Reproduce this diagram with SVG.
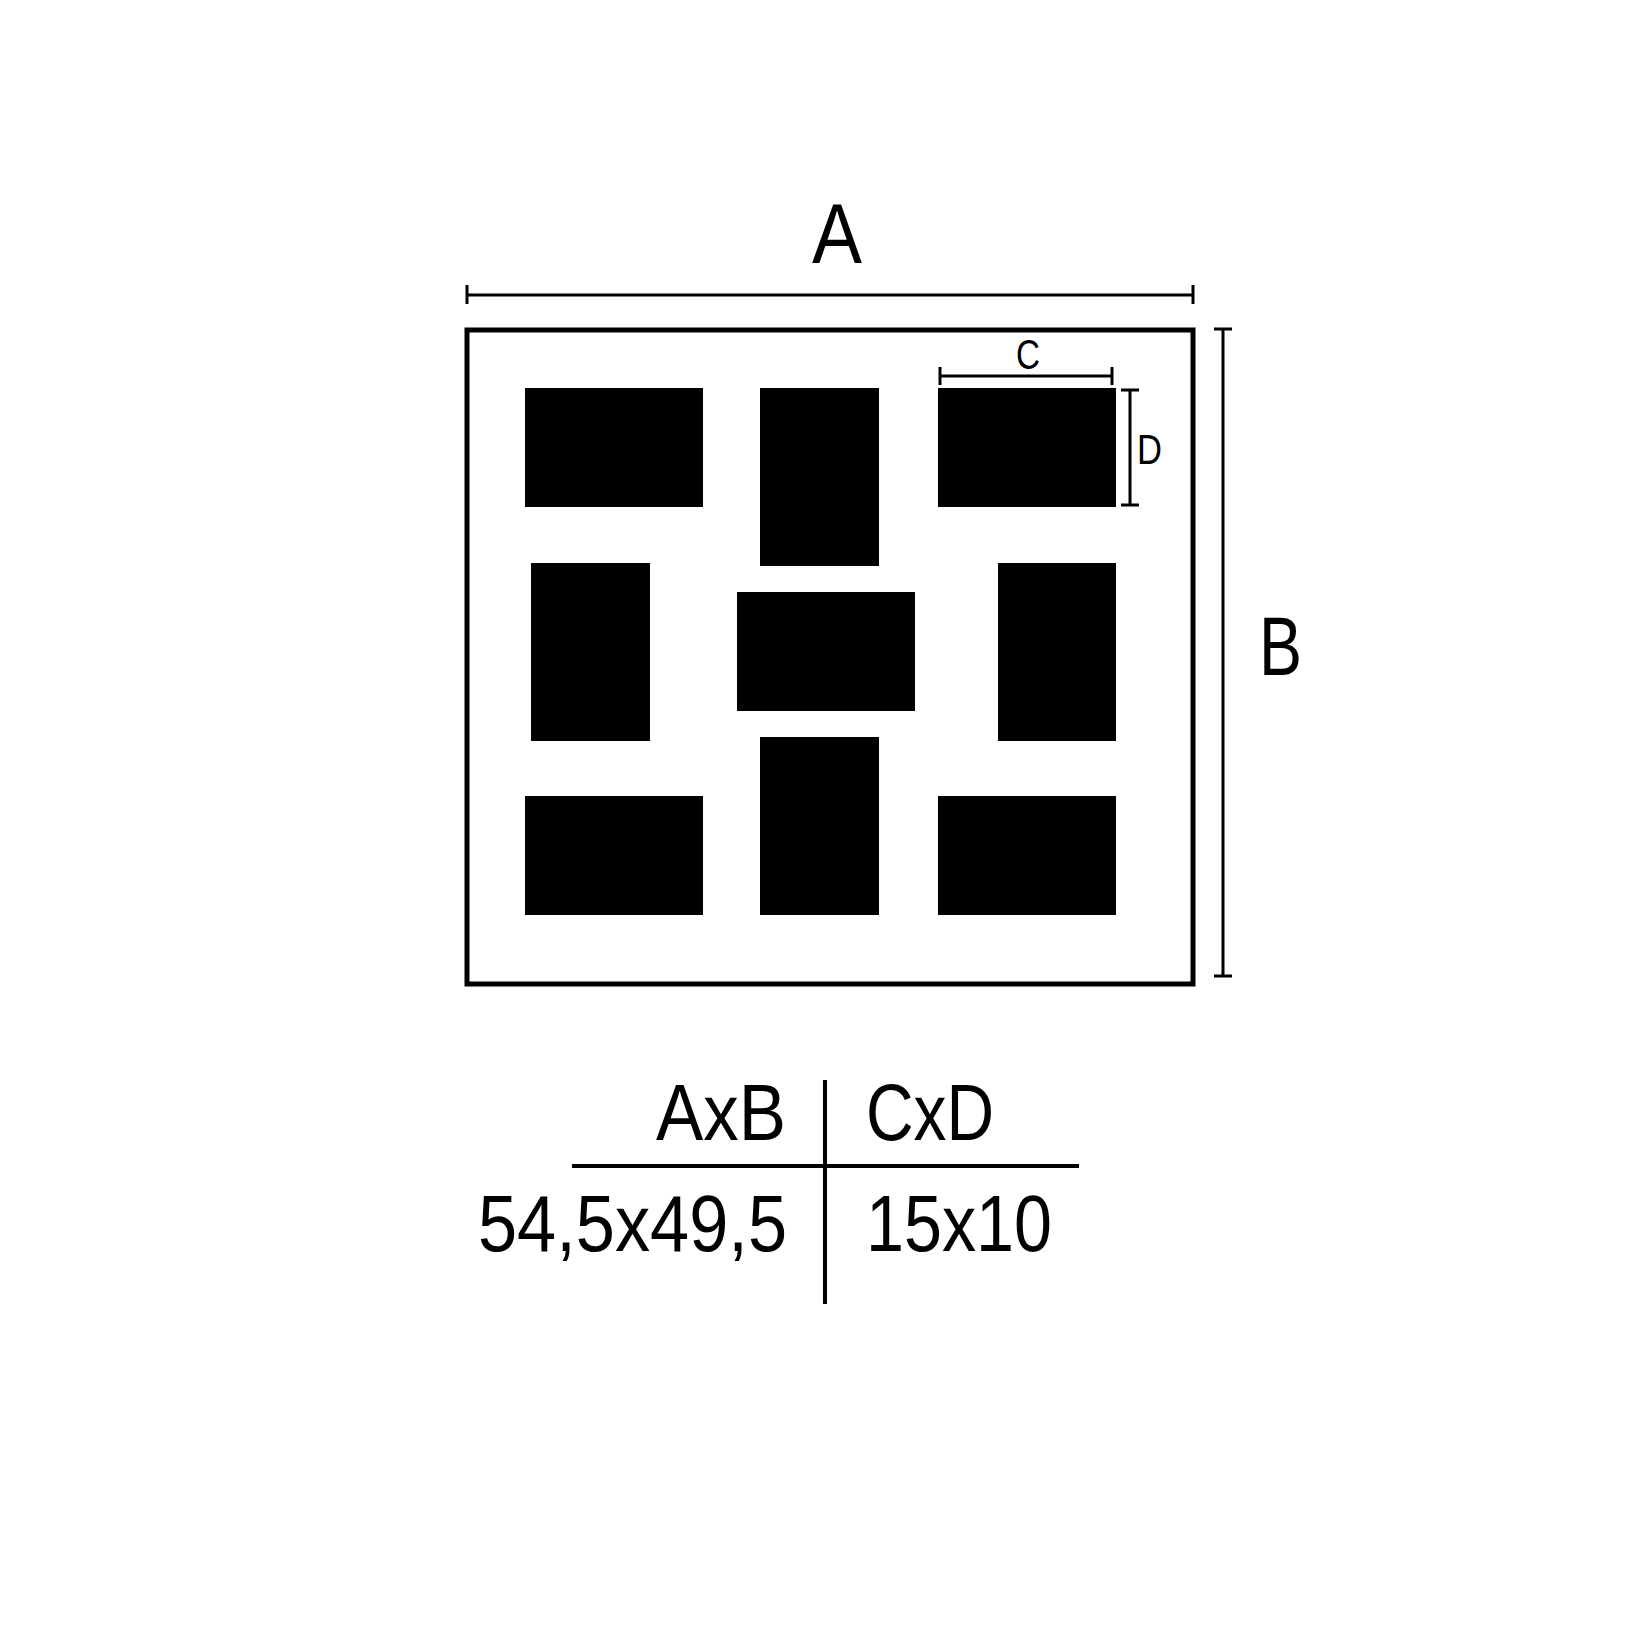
<svg xmlns="http://www.w3.org/2000/svg" width="1652" height="1652" viewBox="0 0 1652 1652">
<style>
.lbl{font-family:"Liberation Sans",Arial,sans-serif;fill:#000}
.dim{stroke:#000;stroke-width:3;fill:none}
.tbl{stroke:#000;stroke-width:4;fill:none}
.photo{fill:#000}
</style>
<rect width="1652" height="1652" fill="#fff"/>
<g id="frame"><rect x="467" y="330" width="726" height="654" fill="none" stroke="#000" stroke-width="5"/></g>
<g id="photos">
<rect id="p1" class="photo" x="525" y="388" width="178" height="119"/>
<rect id="p2" class="photo" x="760" y="388" width="119" height="178"/>
<rect id="p3" class="photo" x="938" y="388" width="178" height="119"/>
<rect id="p4" class="photo" x="531" y="563" width="119" height="178"/>
<rect id="p5" class="photo" x="737" y="592" width="178" height="119"/>
<rect id="p6" class="photo" x="998" y="563" width="118" height="178"/>
<rect id="p7" class="photo" x="525" y="796" width="178" height="119"/>
<rect id="p8" class="photo" x="760" y="737" width="119" height="178"/>
<rect id="p9" class="photo" x="938" y="796" width="178" height="119"/>
</g>
<g id="dimensions">
<path class="dim" d="M467 295H1193M467 285V304M1193 285V304"/>
<path class="dim" d="M1223 329V976M1214 329H1232M1214 976H1232"/>
<path class="dim" d="M940 376H1112M940 367V385M1112 367V385"/>
<path class="dim" d="M1130 390V505M1121 390H1139M1121 505H1139"/>
</g>
<g id="labels">
<text class="lbl" x="812" y="263" font-size="85" textLength="50" lengthAdjust="spacingAndGlyphs">A</text>
<text class="lbl" x="1259" y="675" font-size="84" textLength="43" lengthAdjust="spacingAndGlyphs">B</text>
<text class="lbl" x="1016" y="369" font-size="42" textLength="24" lengthAdjust="spacingAndGlyphs">C</text>
<text class="lbl" x="1137" y="464" font-size="43" textLength="25" lengthAdjust="spacingAndGlyphs">D</text>
</g>
<g id="table">
<path class="tbl" d="M572 1166H1079M825 1080V1304"/>
<text class="lbl" x="656" y="1140" font-size="80" textLength="130" lengthAdjust="spacingAndGlyphs">AxB</text>
<text class="lbl" x="866" y="1140" font-size="80" textLength="128" lengthAdjust="spacingAndGlyphs">CxD</text>
<text class="lbl" x="478" y="1251" font-size="80" textLength="309" lengthAdjust="spacingAndGlyphs">54,5x49,5</text>
<text class="lbl" x="866" y="1251" font-size="80" textLength="186" lengthAdjust="spacingAndGlyphs">15x10</text>
</g>
</svg>
